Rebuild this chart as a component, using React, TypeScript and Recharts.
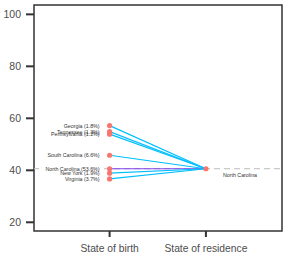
import { ComposedChart, Line, Scatter, XAxis, YAxis, ReferenceLine, ReferenceArea, LabelList } from "recharts"

const states = ["Georgia", "Tennessee", "Pennsylvania", "South Carolina", "North Carolina", "New York", "Virginia"]
const shares = [1.8, 1.3, 1.2, 6.6, 53.6, 1.9, 3.7]
const birthValues = [57.2, 54.9, 53.9, 45.8, 40.6, 38.9, 36.7]
const residenceState = "North Carolina"
const residenceValue = 40.6
const categories = ["State of birth", "State of residence"]
const yTicks = [20, 40, 60, 80, 100]

const X_DOMAIN: [number, number] = [0.215, 2.79]
const Y_DOMAIN: [number, number] = [16.65, 103.6]

const birthPoints = states.map((s, i) => ({ x: 1, y: birthValues[i], label: `${s} (${shares[i]}%)` }))
const residencePoints = [{ x: 2, y: residenceValue, label: residenceState }]

// label props give the point's box; use its centre
const centre = (p: any) => ({ cx: p.x + (p.width || 0) / 2, cy: p.y + (p.height || 0) / 2 })

const BirthLabel = (props: any) => {
  const { cx, cy } = centre(props)
  const value = props.value as string
  const bg = value.startsWith(residenceState)
  const w = value.length * 2.75
  return (
    <g>
      {bg && <rect x={cx - 10 - w} y={cy - 2.5} width={w} height={5} fill="#ffffff" />}
      <text x={cx - 10} y={cy} textAnchor="end" dominantBaseline="central" fontSize={5.3} fill="#333333">
        {value}
      </text>
    </g>
  )
}

const ResidenceLabel = (props: any) => {
  const { cx, cy } = centre(props)
  return (
    <text x={cx + 17} y={cy + 6} textAnchor="start" dominantBaseline="central" fontSize={5.3} fill="#333333">
      {props.value}
    </text>
  )
}

const dotShape = (p: any) => <circle cx={p.cx} cy={p.cy} r={2.6} fill="#f8766d" />

export default function App() {
  return (
    <div style={{ position: "absolute", left: 0, top: 0, fontFamily: "'Liberation Sans', Arial, sans-serif" }}>
      <ComposedChart width={288} height={256} margin={{ top: 5, right: 6, bottom: 0, left: 0 }}>
        <XAxis
          type="number"
          dataKey="x"
          domain={X_DOMAIN}
          ticks={[1, 2]}
          tickFormatter={(v) => categories[v - 1]}
          allowDataOverflow
          height={25}
          axisLine={false}
          tickSize={6}
          tickMargin={8}
          tickLine={{ stroke: "#333333", strokeWidth: 2 }}
          tick={{ fontSize: 10.3, fill: "#4d4d4d" }}
        />
        <YAxis
          type="number"
          domain={Y_DOMAIN}
          ticks={yTicks}
          allowDataOverflow
          width={34}
          axisLine={false}
          tickSize={8}
          tickMargin={5}
          tickLine={{ stroke: "#333333", strokeWidth: 2 }}
          tick={{ fontSize: 10.5, fill: "#4d4d4d" }}
        />
        <ReferenceArea
          x1={X_DOMAIN[0]}
          x2={X_DOMAIN[1]}
          y1={Y_DOMAIN[0]}
          y2={Y_DOMAIN[1]}
          fill="none"
          stroke="#333333"
          strokeWidth={1.5}
        />
        <ReferenceLine y={residenceValue} stroke="#bbbbbb" strokeDasharray="6 4" strokeWidth={1} />
        {states.map((s, i) => (
          <Line
            key={s}
            data={[
              { x: 1, y: birthValues[i] },
              { x: 2, y: residenceValue },
            ]}
            dataKey="y"
            type="linear"
            stroke={s === residenceState ? "#7f3ff0" : "#00bfff"}
            strokeWidth={1.2}
            dot={false}
            activeDot={false}
            isAnimationActive={false}
          />
        ))}
        <Scatter data={birthPoints} dataKey="y" fill="#f8766d" shape={dotShape} isAnimationActive={false}>
          <LabelList dataKey="label" content={BirthLabel} />
        </Scatter>
        <Scatter data={residencePoints} dataKey="y" fill="#f8766d" shape={dotShape} isAnimationActive={false}>
          <LabelList dataKey="label" content={ResidenceLabel} />
        </Scatter>
      </ComposedChart>
    </div>
  )
}
